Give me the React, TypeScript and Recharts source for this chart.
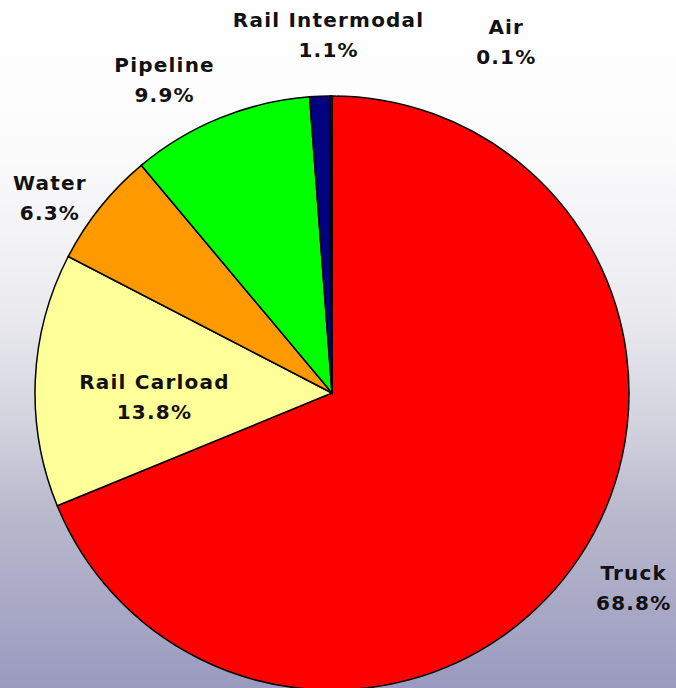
import React from "react";
import { PieChart, Pie, Cell } from "recharts";

const modes = ["Truck", "Rail Carload", "Water", "Pipeline", "Rail Intermodal", "Air"];
const shares = [68.8, 13.8, 6.3, 9.9, 1.1, 0.1];
const colors = ["#ff0000", "#ffff99", "#ff9900", "#00ff00", "#000080", "#3366ff"];

const data = modes.map((name, i) => ({ name, value: shares[i] }));

// label placement: radial distance (x outer radius) and angle nudge in degrees
const LABEL_PLACE: Record<string, { r: number; d: number }> = {
  Truck: { r: 1.21, d: 0.95 },
  "Rail Carload": { r: 0.598, d: 3.95 },
  Water: { r: 1.155, d: 4 },
  Pipeline: { r: 1.195, d: 6 },
  "Rail Intermodal": { r: 1.207, d: -1.8 },
  Air: { r: 1.319, d: -26.6 },
};

const RAD = Math.PI / 180;

const renderLabel = (props: any) => {
  const { cx, cy, midAngle, outerRadius, name, value } = props;
  const place = LABEL_PLACE[name] || { r: 1.2, d: 0 };
  const a = (midAngle + place.d) * RAD;
  const x = cx + outerRadius * place.r * Math.cos(a);
  const y = cy - outerRadius * place.r * Math.sin(a);
  let leader = null;
  if (name === "Air") {
    const sx = cx + outerRadius * Math.cos(midAngle * RAD) + 5;
    const sy = cy - outerRadius * Math.sin(midAngle * RAD) - 1;
    leader = (
      <polyline
        points={`${sx},${sy} ${x - 56},${y - 3} ${x - 38},${y - 3}`}
        fill="none"
        stroke="#ffffff"
        strokeWidth={1}
      />
    );
  }
  return (
    <g>
      {leader}
      <text
        x={x}
        y={y}
        textAnchor="middle"
        fill="#111"
        fontFamily="DejaVu Sans, Verdana, sans-serif"
        fontWeight="bold"
        fontSize={20}
        letterSpacing={1.2}
      >
        <tspan x={x} y={y - 8}>{name}</tspan>
        <tspan x={x} y={y + 22}>{value.toFixed(1)}%</tspan>
      </text>
    </g>
  );
};

export default function App() {
  return (
    <div
      style={{
        width: 676,
        height: 688,
        position: "absolute",
        left: 0,
        top: 0,
        background:
          "linear-gradient(to bottom, #ffffff 0%, #fbfbfc 22%, #ececf0 44%, #d2d2de 62%, #b8b8cc 75%, #9a9ac0 100%)",
        overflow: "hidden",
      }}
    >
      <PieChart width={676} height={688} margin={{ top: 0, right: 0, bottom: 0, left: 0 }}>
        <Pie
          data={data}
          dataKey="value"
          nameKey="name"
          cx={332}
          cy={393}
          outerRadius={297}
          startAngle={90}
          endAngle={-270}
          stroke="#000"
          strokeWidth={1.5}
          label={renderLabel}
          labelLine={false}
          isAnimationActive={false}
        >
          {data.map((entry, i) => (
            <Cell key={`cell-${i}`} fill={colors[i]} />
          ))}
        </Pie>
      </PieChart>
    </div>
  );
}
